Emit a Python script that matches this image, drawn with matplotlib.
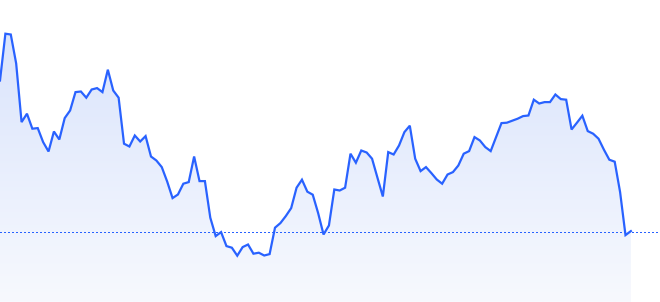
import numpy as np
import matplotlib
matplotlib.use("Agg")
import matplotlib.pyplot as plt
from matplotlib.colors import LinearSegmentedColormap

# intraday prices, one per tick
prices = [194.95, 197.29, 197.25, 195.80, 192.87, 193.29, 192.54, 192.57, 191.87, 191.40,
          192.40, 192.00, 193.07, 193.45, 194.37, 194.40, 194.09, 194.50, 194.57, 194.37,
          195.49, 194.45, 194.09, 191.79, 191.65, 192.20, 191.90, 192.17, 191.15, 190.95,
          190.62, 189.90, 189.07, 189.25, 189.79, 189.87, 191.15, 189.92, 189.92, 188.09,
          187.17, 187.37, 186.67, 186.59, 186.19, 186.62, 186.75, 186.29, 186.34, 186.20,
          186.27, 187.59, 187.82, 188.17, 188.57, 189.59, 189.99, 189.39, 189.24, 188.32,
          187.25, 187.70, 189.50, 189.45, 189.59, 191.29, 190.84, 191.45, 191.35, 191.04,
          190.09, 189.15, 191.37, 191.25, 191.70, 192.37, 192.69, 191.04, 190.42, 190.62,
          190.32, 190.00, 189.79, 190.25, 190.37, 190.70, 191.29, 191.42, 192.12, 191.95,
          191.62, 191.42, 192.12, 192.82, 192.84, 192.94, 193.04, 193.17, 193.20, 193.99,
          193.80, 193.87, 193.87, 194.25, 194.02, 193.99, 192.50, 192.84, 193.19, 192.42,
          192.29, 192.04, 191.49, 190.99, 190.89, 189.37, 187.22, 187.42]
prev_close = 187.40
n_slots = 122.4  # session length in ticks, rest of the day is empty

line_color = "#2962ff"

fig = plt.figure(figsize=(6.6, 3.02), dpi=100)
ax = fig.add_axes([0, 0, 1, 1])
ax.set_xlim(0, n_slots)
ymin, ymax = 183.875, 198.975
ax.set_ylim(ymin, ymax)
ax.axis("off")

x = np.arange(len(prices))
y = np.array(prices)

# gradient under the line
fill = ax.fill_between(x, y, ymin, color="none", lw=0)
cmap = LinearSegmentedColormap.from_list("g", ["#f7f9fe", "#dae4fc"])
grad = np.linspace(0, 1, 256).reshape(-1, 1)
img = ax.imshow(grad, cmap=cmap, aspect="auto", origin="lower",
                extent=[0, x[-1], ymin, y.max()], zorder=1)
img.set_clip_path(fill.get_paths()[0], transform=ax.transData)

ax.axhline(prev_close, color=line_color, lw=0.72, ls=(0, (1.4, 2.8)),
           antialiased=False, zorder=2)
ax.plot(x, y, color=line_color, lw=1.6, zorder=3, solid_joinstyle="miter")

fig.savefig("out.png", dpi=100)
